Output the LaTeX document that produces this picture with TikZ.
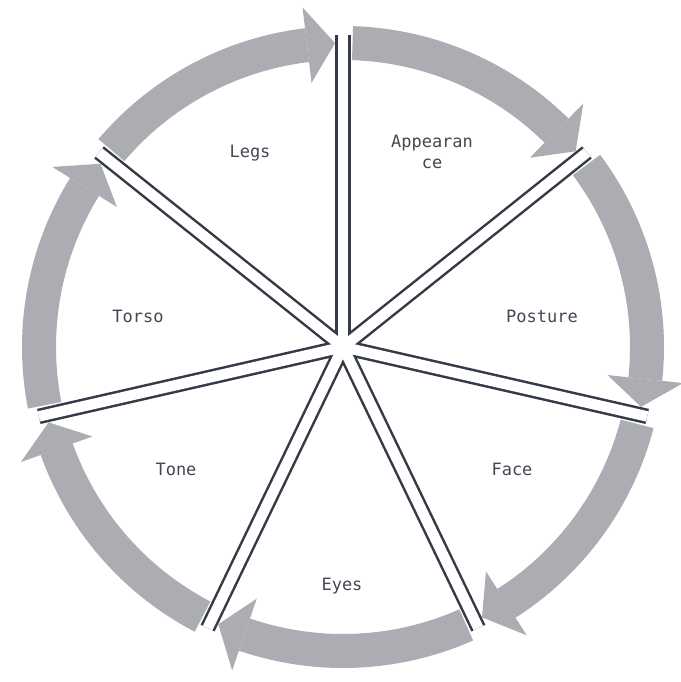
\documentclass[tikz,border=0pt]{standalone}
\usepackage{fontspec}
\setmainfont{DejaVu Sans Mono}
\usetikzlibrary{calc}
\definecolor{arrowgray}{HTML}{ABADB3}
\definecolor{spokedark}{HTML}{343B46}
\definecolor{labeltext}{HTML}{434854}
\begin{document}
\begin{tikzpicture}[x=1pt,y=1pt,
  band/.style={fill=arrowgray,draw=none},
  spokeouter/.style={draw=spokedark,line width=15.5pt,line cap=butt},
  spokeinner/.style={draw=white,line width=10.5pt,line cap=butt},
  lbl/.style={font=\fontsize{17}{21}\selectfont,text=labeltext,align=center,inner sep=0pt}]
\useasboundingbox (0,0) rectangle (680,682);
\fill[white] (0,0) rectangle (680,682);
\coordinate (C) at (343,335);
% arrow segments (clockwise)
\foreach \i in {0,...,6}{
  \pgfmathsetmacro{\as}{90-\i*51.428571-1.8}
  \pgfmathsetmacro{\ae}{90-(\i+1)*51.428571+6.8}
  \pgfmathsetmacro{\at}{90-(\i+1)*51.428571+1.5}
  \fill[band,shift={(C)}] (\as:321) arc[start angle=\as,end angle=\ae,radius=321]
     -- (\ae:287) arc[start angle=\ae,end angle=\as,radius=287] -- cycle;
  \fill[band,shift={(C)}] (\ae:266) -- (\at:304) -- (\ae:342) -- cycle;
}
% spokes
\foreach \i in {0,...,6}{
  \pgfmathsetmacro{\a}{90-\i*51.428571}
  \coordinate (P\i) at ($(C)+(\a:312)$);
}
\foreach \i in {0,...,6}{ \draw[spokeouter] (C) -- (P\i); }
\foreach \i in {0,...,6}{ \draw[spokeinner] (C) -- (P\i); }
\fill[white] (C) circle (8);
% labels
\node[lbl] (legs) at (250,529) {Legs};
\node[lbl] (appearance) at (432,530) {Appearan\\ce};
\node[lbl] (posture) at (542,366) {Posture};
\node[lbl] (face) at (512,213) {Face};
\node[lbl] (eyes) at (342,96) {Eyes};
\node[lbl] (tone) at (176,213) {Tone};
\node[lbl] (torso) at (138,366) {Torso};
\end{tikzpicture}
\end{document}
